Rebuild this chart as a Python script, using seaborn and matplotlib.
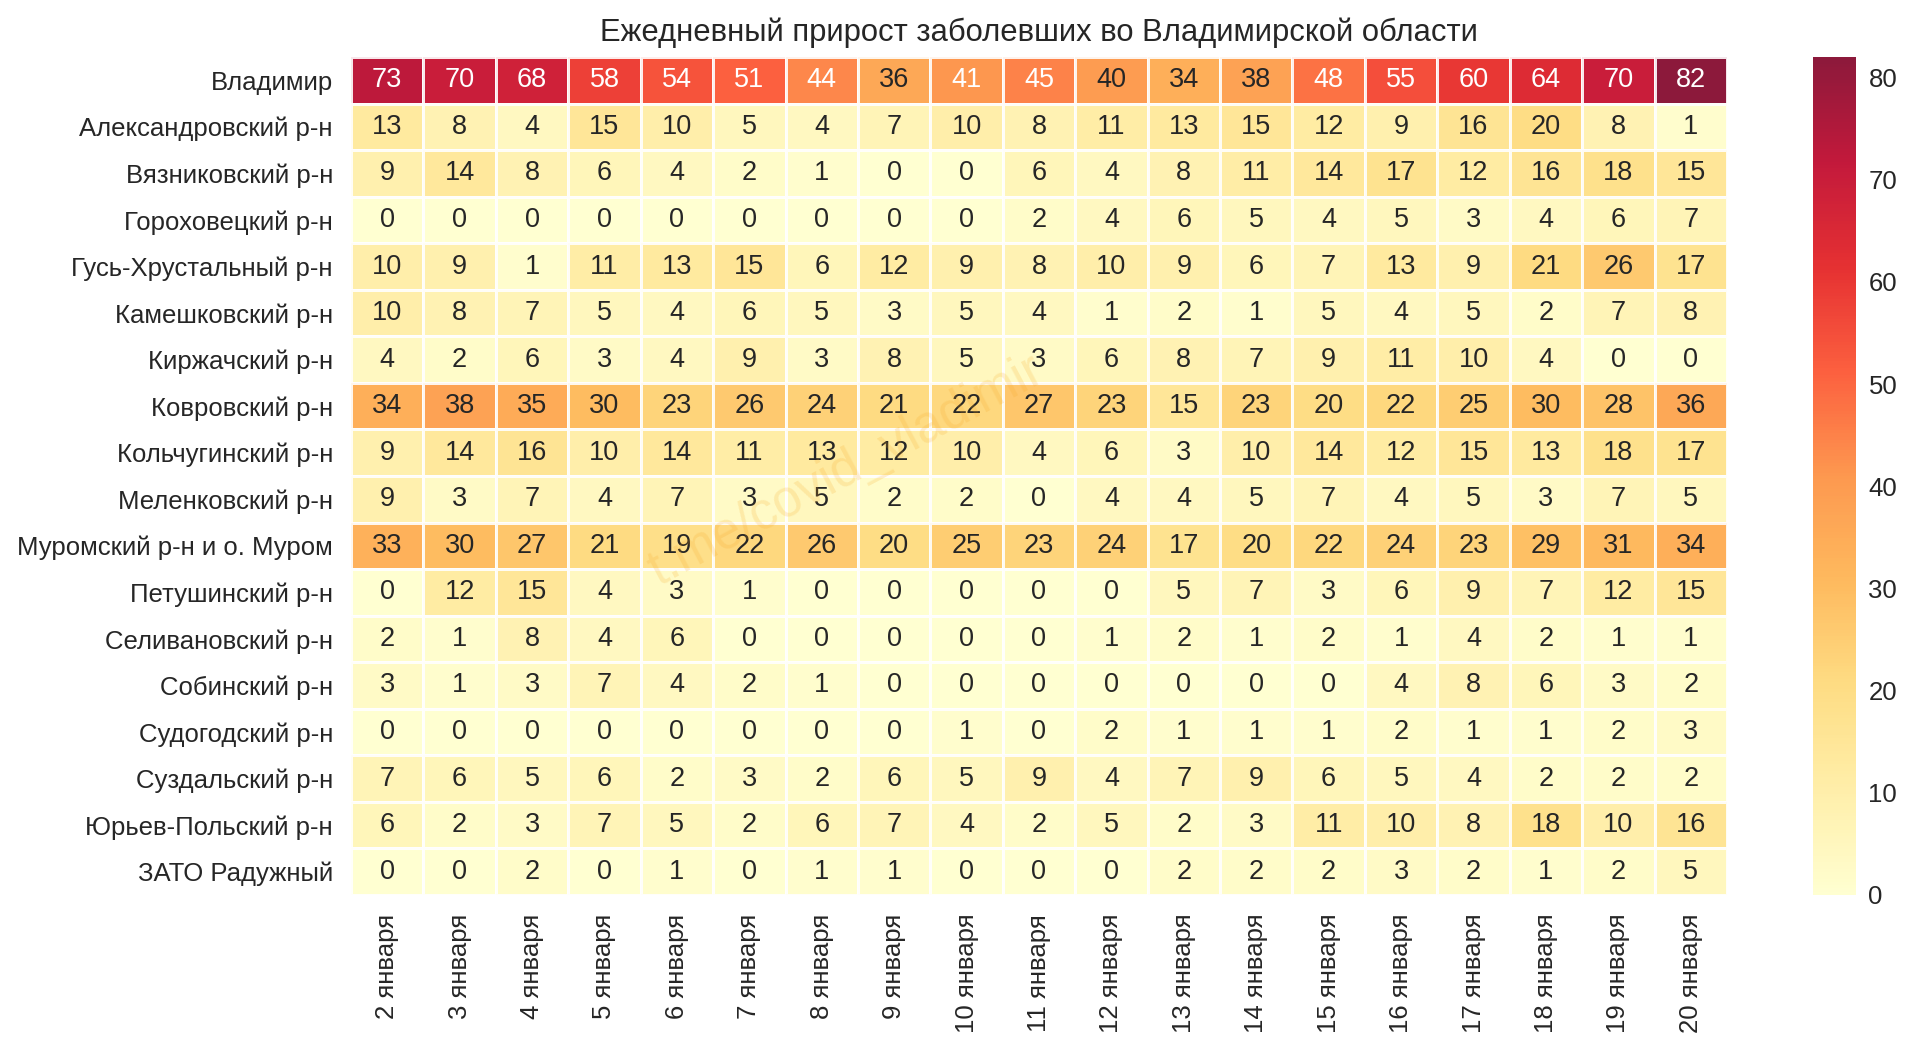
import matplotlib
matplotlib.use("Agg")
import matplotlib.pyplot as plt
import matplotlib.transforms as mtrans
import numpy as np
import pandas as pd
import seaborn as sns

districts = ["Владимир", "Александровский р-н", "Вязниковский р-н", "Гороховецкий р-н",
             "Гусь-Хрустальный р-н", "Камешковский р-н", "Киржачский р-н", "Ковровский р-н",
             "Кольчугинский р-н", "Меленковский р-н", "Муромский р-н и о. Муром",
             "Петушинский р-н", "Селивановский р-н", "Собинский р-н", "Судогодский р-н",
             "Суздальский р-н", "Юрьев-Польский р-н", "ЗАТО Радужный"]
days = [f"{d} января" for d in range(2, 21)]

vladimir = [73, 70, 68, 58, 54, 51, 44, 36, 41, 45, 40, 34, 38, 48, 55, 60, 64, 70, 82]
aleksandrov = [13, 8, 4, 15, 10, 5, 4, 7, 10, 8, 11, 13, 15, 12, 9, 16, 20, 8, 1]
vyazniki = [9, 14, 8, 6, 4, 2, 1, 0, 0, 6, 4, 8, 11, 14, 17, 12, 16, 18, 15]
gorokhovets = [0, 0, 0, 0, 0, 0, 0, 0, 0, 2, 4, 6, 5, 4, 5, 3, 4, 6, 7]
gus = [10, 9, 1, 11, 13, 15, 6, 12, 9, 8, 10, 9, 6, 7, 13, 9, 21, 26, 17]
kameshkovo = [10, 8, 7, 5, 4, 6, 5, 3, 5, 4, 1, 2, 1, 5, 4, 5, 2, 7, 8]
kirzhach = [4, 2, 6, 3, 4, 9, 3, 8, 5, 3, 6, 8, 7, 9, 11, 10, 4, 0, 0]
kovrov = [34, 38, 35, 30, 23, 26, 24, 21, 22, 27, 23, 15, 23, 20, 22, 25, 30, 28, 36]
kolchugino = [9, 14, 16, 10, 14, 11, 13, 12, 10, 4, 6, 3, 10, 14, 12, 15, 13, 18, 17]
melenki = [9, 3, 7, 4, 7, 3, 5, 2, 2, 0, 4, 4, 5, 7, 4, 5, 3, 7, 5]
murom = [33, 30, 27, 21, 19, 22, 26, 20, 25, 23, 24, 17, 20, 22, 24, 23, 29, 31, 34]
petushki = [0, 12, 15, 4, 3, 1, 0, 0, 0, 0, 0, 5, 7, 3, 6, 9, 7, 12, 15]
selivanovo = [2, 1, 8, 4, 6, 0, 0, 0, 0, 0, 1, 2, 1, 2, 1, 4, 2, 1, 1]
sobinka = [3, 1, 3, 7, 4, 2, 1, 0, 0, 0, 0, 0, 0, 0, 4, 8, 6, 3, 2]
sudogda = [0, 0, 0, 0, 0, 0, 0, 0, 1, 0, 2, 1, 1, 1, 2, 1, 1, 2, 3]
suzdal = [7, 6, 5, 6, 2, 3, 2, 6, 5, 9, 4, 7, 9, 6, 5, 4, 2, 2, 2]
yuryev = [6, 2, 3, 7, 5, 2, 6, 7, 4, 2, 5, 2, 3, 11, 10, 8, 18, 10, 16]
raduzhny = [0, 0, 2, 0, 1, 0, 1, 1, 0, 0, 0, 2, 2, 2, 3, 2, 1, 2, 5]

df = pd.DataFrame([vladimir, aleksandrov, vyazniki, gorokhovets, gus, kameshkovo, kirzhach,
                   kovrov, kolchugino, melenki, murom, petushki, selivanovo, sobinka,
                   sudogda, suzdal, yuryev, raduzhny], index=districts, columns=days)

sns.set_theme(style="white")
plt.rcParams["font.family"] = ["Liberation Sans", "DejaVu Sans"]
text_color = "#262626"

fig = plt.figure(figsize=(19.2, 10.51), dpi=100)
W, H = 1920, 1051
ax = fig.add_axes([351 / W, 1 - 895 / H, (1727 - 351) / W, (895 - 57) / H])
cax = fig.add_axes([1813 / W, 1 - 895 / H, (1856 - 1813) / W, (895 - 57) / H])

sns.heatmap(df, ax=ax, cbar_ax=cax, cmap="YlOrRd", alpha=0.9, annot=True, fmt="d",
            linewidths=2, linecolor="white", annot_kws={"size": 19.5})
ax.set_title("Ежедневный прирост заболевших во Владимирской области",
             fontsize=22.3, color=text_color, pad=11.5)
ax.tick_params(axis="y", length=0, labelsize=18.5, labelcolor=text_color, pad=13)
ax.tick_params(axis="x", length=0, labelsize=18.5, labelcolor=text_color, pad=13.5)
plt.setp(ax.get_yticklabels(), rotation=0)
plt.setp(ax.get_xticklabels(), rotation=90)
shift = mtrans.ScaledTranslation(0, -2.4 / 100, fig.dpi_scale_trans)
for label in ax.get_yticklabels():
    label.set_transform(label.get_transform() + shift)
cax.tick_params(length=0, labelsize=18.5, labelcolor=text_color, pad=9)

ax.text(0.36, 0.506, "t.me/covid_vladimir", transform=ax.transAxes, fontsize=37,
        color="#f5a623", alpha=0.19, rotation=28, ha="center", va="center")

fig.savefig("out.png", dpi=100)
